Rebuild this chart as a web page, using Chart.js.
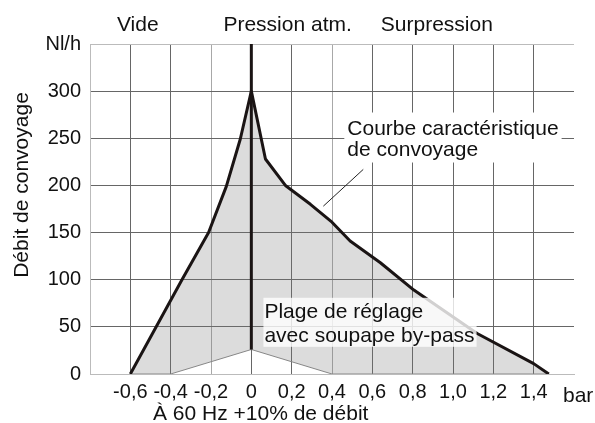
<!DOCTYPE html>
<html>
<head>
<meta charset="utf-8">
<script src="https://cdn.jsdelivr.net/npm/chart.js@4.4.1/dist/chart.umd.min.js"></script>
<style>
  body { margin: 0; background: #fff; }
  #wrap { width: 595px; height: 423px; }
</style>
</head>
<body>
<div id="wrap"><canvas id="chart" width="595" height="423"></canvas></div>
<script>
// Courbe caractéristique (bar / Nl/h)
const curveX = [-0.6, -0.344, -0.212, -0.124, -0.055, 0, 0.07, 0.169, 0.293, 0.4, 0.49, 0.64, 0.806, 1.12, 1.40, 1.475];
const curveY = [0, 100, 150, 199, 249, 300, 228, 200, 180, 161, 141, 118, 89, 43, 11, 0];

// Limite basse de la plage de réglage (soupape by-pass)
const bypassX = [-0.6, -0.4, 0, 0.4, 1.475];
const bypassY = [0, 0, 26, 0, 0];

// Ligne pression atm.
const atmX = [0, 0];
const atmY = [26, 350];

const xMin = -0.8, xMax = 1.6, xStep = 0.2;
const yMin = 0, yMax = 350, yStep = 50;
const yTopLabel = 'Nl/h';

const FONT = '"Liberation Sans", Arial, sans-serif';
const pts = (xs, ys) => xs.map((x, i) => ({ x: x, y: ys[i] }));
const near = (a, b) => Math.abs(a - b) < 1e-6;

const gridColor = v => {
  if (near(v, xMin) || near(v, xMax)) return '#bbbbbb';
  if (near(v, -0.2) || near(v, 0.4)) return '#a8a8a8';
  return '#666666';
};

// Textes et annotations
const labelsPlugin = {
  id: 'labels',
  afterDatasetsDraw(chart) {
    const { ctx, scales: { x, y } } = chart;
    ctx.save();
    ctx.font = '21px ' + FONT;
    ctx.textBaseline = 'alphabetic';
    ctx.textAlign = 'left';

    // Courbe caractéristique
    let tx = x.getPixelForValue(0.476), l1 = y.getPixelForValue(254), l2 = y.getPixelForValue(231);
    let w = Math.max(ctx.measureText('Courbe caractéristique').width, ctx.measureText('de convoyage').width);
    ctx.fillStyle = '#fff';
    ctx.fillRect(tx - 3, l1 - 22, w + 6, 50);
    ctx.strokeStyle = '#222';
    ctx.lineWidth = 1;
    ctx.beginPath();
    ctx.moveTo(x.getPixelForValue(0.555), y.getPixelForValue(217));
    ctx.lineTo(x.getPixelForValue(0.357), y.getPixelForValue(178));
    ctx.stroke();
    ctx.fillStyle = '#111';
    ctx.fillText('Courbe caractéristique', tx, l1);
    ctx.fillText('de convoyage', tx, l2);

    // Plage de réglage
    tx = x.getPixelForValue(0.065); l1 = y.getPixelForValue(59.6); l2 = y.getPixelForValue(34);
    w = Math.max(ctx.measureText('Plage de réglage').width, ctx.measureText('avec soupape by-pass').width);
    ctx.fillStyle = 'rgba(255,255,255,0.8)';
    ctx.fillRect(tx - 1, l1 - 20, w + 3, 49);
    ctx.fillStyle = '#111';
    ctx.fillText('Plage de réglage', tx, l1);
    ctx.fillText('avec soupape by-pass', tx, l2);
    ctx.restore();
  },
  afterDraw(chart) {
    const { ctx, chartArea, scales: { x } } = chart;
    ctx.save();
    ctx.font = '21px ' + FONT;
    ctx.fillStyle = '#111';
    ctx.textAlign = 'center';
    ctx.textBaseline = 'middle';
    ctx.fillText('Vide', x.getPixelForValue(-0.563), 25);
    ctx.fillText('Pression atm.', x.getPixelForValue(0.18), 25);
    ctx.fillText('Surpression', x.getPixelForValue(0.92), 25);

    ctx.textAlign = 'left';
    ctx.fillText('bar', chartArea.right - 11, 396);
    ctx.textBaseline = 'alphabetic';
    ctx.fillText('À 60 Hz +10% de débit', 153, 420);

    ctx.translate(22, 185);
    ctx.rotate(-Math.PI / 2);
    ctx.textAlign = 'center';
    ctx.textBaseline = 'middle';
    ctx.fillText('Débit de convoyage', 0, 0);
    ctx.restore();
  }
};

new Chart(document.getElementById('chart'), {
  type: 'scatter',
  data: {
    datasets: [
      {
        label: 'by-pass',
        data: pts(bypassX, bypassY),
        showLine: true,
        borderColor: '#8a8a8a',
        borderWidth: 1,
        pointRadius: 0,
        fill: false,
        order: 2
      },
      {
        label: 'Courbe',
        data: pts(curveX, curveY),
        showLine: true,
        borderColor: '#1a1414',
        borderWidth: 3,
        borderJoinStyle: 'round',
        pointRadius: 0,
        fill: { target: 0 },
        backgroundColor: 'rgba(120,120,120,0.26)',
        order: 1
      },
      {
        label: 'atm',
        data: pts(atmX, atmY),
        showLine: true,
        borderColor: '#1a1414',
        borderWidth: 3,
        pointRadius: 0,
        fill: false,
        order: 0
      }
    ]
  },
  options: {
    responsive: false,
    animation: false,
    layout: { padding: { top: 44, right: 21, left: 0, bottom: 0 } },
    plugins: { legend: { display: false }, tooltip: { enabled: false } },
    scales: {
      x: {
        type: 'linear',
        min: xMin, max: xMax,
        afterFit: s => { s.height = 49; },
        ticks: {
          stepSize: xStep,
          padding: 6,
          color: '#111',
          font: { family: FONT, size: 20 },
          callback: v => (near(v, xMin) || near(v, xMax)) ? null : (near(v, 0) ? '0' : v.toFixed(1).replace('.', ','))
        },
        grid: { color: c => gridColor(c.tick.value), drawTicks: false, lineWidth: 1 },
        border: { color: '#bbbbbb' }
      },
      y: {
        min: yMin, max: yMax,
        afterFit: s => { s.width = 90; },
        ticks: {
          stepSize: yStep,
          padding: 9,
          color: '#111',
          font: { family: FONT, size: 20 },
          callback: v => v === yMax ? yTopLabel : v
        },
        grid: { color: c => c.tick.value === yMax ? '#bbbbbb' : '#666666', drawTicks: false, lineWidth: 1 },
        border: { color: '#bbbbbb' }
      }
    }
  },
  plugins: [labelsPlugin]
});
</script>
</body>
</html>
